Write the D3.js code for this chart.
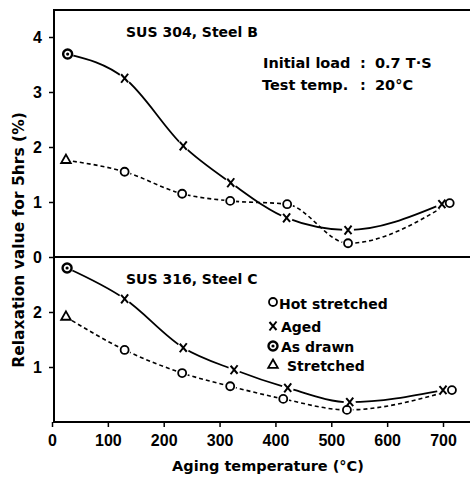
<!DOCTYPE html>
<html>
<head>
<meta charset="utf-8">
<script src="https://cdn.jsdelivr.net/npm/d3@7"></script>
<style>
    body { margin: 0; background: #fff; }
    svg text { font-family: 'DejaVu Sans', sans-serif; font-weight: bold; fill: #000; }
    svg .tick text { font-family: 'Liberation Sans', Arial, sans-serif; }
</style>
</head>
<body>
<div id="chart"></div>
<script>

// SUS 304, Steel B (upper panel)
var temp_aged_b = [130, 235, 320, 420, 530, 698];
var aged_b      = [3.25, 2.02, 1.35, 0.71, 0.49, 0.96];
var temp_hot_b  = [130, 233, 319, 421, 530, 712];
var hot_b       = [1.55, 1.15, 1.02, 0.96, 0.25, 0.98];
var as_drawn_b  = [28, 3.69];
var stretched_b = [25, 1.76];

// SUS 316, Steel C (lower panel)
var temp_aged_c = [130, 235, 326, 422, 533, 700];
var aged_c      = [2.24, 1.35, 0.95, 0.62, 0.36, 0.58];
var temp_hot_c  = [130, 233, 319, 414, 528, 716];
var hot_c       = [1.31, 0.89, 0.65, 0.42, 0.22, 0.58];
var as_drawn_c  = [27, 2.80];
var stretched_c = [25, 1.91];

var x_ticks = [0, 100, 200, 300, 400, 500, 600, 700];
var upper_ticks = [0, 1, 2, 3, 4];
var lower_ticks = [1, 2];

var legend_labels = ['Hot stretched', 'Aged', 'As drawn', 'Stretched'];

var w = 470;
var h = 477;
var left = 54;
var top_y = 10;
var mid_y = 257;
var bottom_y = 422;

var svg = d3.select('#chart')
            .append('svg')
            .attr('width', w)
            .attr('height', h);

var xScale = d3.scaleLinear()
    .domain([0, 700])
    .range([52, 443]);

var yUpper = d3.scaleLinear()
    .domain([0, 4])
    .range([mid_y, mid_y - 220]);

var yLower = d3.scaleLinear()
    .domain([0, 2])
    .range([bottom_y, bottom_y - 110]);

function zip(temps, vals) {
    return temps.map(function(t, i) { return [t, vals[i]]; });
}

// frame lines
[top_y, mid_y].forEach(function(yy) {
    svg.append('line')
        .attr('x1', left).attr('x2', w)
        .attr('y1', yy).attr('y2', yy)
        .attr('stroke', 'black').attr('stroke-width', 2);
});

var xAxis = d3.axisBottom(xScale).tickValues(x_ticks).tickSize(5).tickPadding(8);
var gx = svg.append('g')
    .attr('transform', 'translate(0,' + bottom_y + ')')
    .call(xAxis);
gx.select('.domain').remove();
gx.append('line')
    .attr('x1', left).attr('x2', w)
    .attr('stroke', 'black').attr('stroke-width', 2);
gx.selectAll('.tick line').attr('stroke-width', 1.5);
gx.selectAll('.tick text').attr('font-size', 16).attr('font-family', null);

var gyu = svg.append('g')
    .attr('transform', 'translate(' + left + ',0)')
    .call(d3.axisLeft(yUpper).tickValues(upper_ticks).tickFormat(d3.format('d')).tickSize(5).tickPadding(7));
var gyl = svg.append('g')
    .attr('transform', 'translate(' + left + ',0)')
    .call(d3.axisLeft(yLower).tickValues(lower_ticks).tickFormat(d3.format('d')).tickSize(5).tickPadding(7));
[gyu, gyl].forEach(function(g) {
    g.select('.domain').remove();
    g.selectAll('.tick line').attr('stroke-width', 1.5);
    g.selectAll('.tick text').attr('font-size', 16).attr('font-family', null);
});
svg.append('line')
    .attr('x1', left).attr('x2', left)
    .attr('y1', top_y - 1).attr('y2', bottom_y + 1)
    .attr('stroke', 'black').attr('stroke-width', 2);

function draw_panel(yScale, temp_aged, aged, temp_hot, hot, as_drawn, stretched) {

    var solid = [as_drawn].concat(zip(temp_aged, aged));
    var dashed = [stretched].concat(zip(temp_hot, hot));

    var line = d3.line()
        .x(function(d) { return xScale(d[0]); })
        .y(function(d) { return yScale(d[1]); })
        .curve(d3.curveMonotoneX);

    svg.append('path')
        .attr('d', line(solid))
        .attr('fill', 'none')
        .attr('stroke', 'black')
        .attr('stroke-width', 1.8);

    svg.append('path')
        .attr('d', line(dashed))
        .attr('fill', 'none')
        .attr('stroke', 'black')
        .attr('stroke-width', 1.6)
        .attr('stroke-dasharray', '4,3');

    // white gaps round the markers
    svg.selectAll(null)
        .data(solid.concat(dashed))
        .enter()
        .append('circle')
        .attr('cx', function(d) { return xScale(d[0]); })
        .attr('cy', function(d) { return yScale(d[1]); })
        .attr('r', 6)
        .attr('fill', 'white');

    draw_o(svg, zip(temp_hot, hot).map(function(d) { return [xScale(d[0]), yScale(d[1])]; }));
    draw_x(svg, zip(temp_aged, aged).map(function(d) { return [xScale(d[0]), yScale(d[1])]; }));
    draw_dot(svg, [[xScale(as_drawn[0]), yScale(as_drawn[1])]]);
    draw_tri(svg, [[xScale(stretched[0]), yScale(stretched[1])]]);
}

function draw_o(g, pts) {
    g.selectAll(null).data(pts).enter().append('circle')
        .attr('cx', function(d) { return d[0]; })
        .attr('cy', function(d) { return d[1]; })
        .attr('r', 4)
        .attr('fill', 'white')
        .attr('stroke', 'black')
        .attr('stroke-width', 1.8);
}

function draw_x(g, pts) {
    g.selectAll(null).data(pts).enter().append('path')
        .attr('transform', function(d) { return 'translate(' + d[0] + ',' + d[1] + ')'; })
        .attr('d', 'M-3.5,-4L3.5,4M3.5,-4.5L-3.5,4.5')
        .attr('fill', 'none')
        .attr('stroke', 'black')
        .attr('stroke-width', 2);
}

function draw_dot(g, pts) {
    var s = g.selectAll(null).data(pts).enter().append('g')
        .attr('transform', function(d) { return 'translate(' + d[0] + ',' + d[1] + ')'; });
    s.append('circle').attr('r', 4.5).attr('fill', 'white')
        .attr('stroke', 'black').attr('stroke-width', 2.4);
    s.append('circle').attr('r', 1.6).attr('fill', 'black');
}

function draw_tri(g, pts) {
    g.selectAll(null).data(pts).enter().append('path')
        .attr('transform', function(d) { return 'translate(' + d[0] + ',' + d[1] + ')'; })
        .attr('d', d3.symbol(d3.symbolTriangle, 40))
        .attr('fill', 'white')
        .attr('stroke', 'black')
        .attr('stroke-width', 1.8);
}

draw_panel(yUpper, temp_aged_b, aged_b, temp_hot_b, hot_b, as_drawn_b, stretched_b);
draw_panel(yLower, temp_aged_c, aged_c, temp_hot_c, hot_c, as_drawn_c, stretched_c);

// panel labels
svg.append('text').attr('x', 126).attr('y', 37).attr('font-size', 14).text('SUS 304, Steel B');
svg.append('text').attr('x', 126).attr('y', 284).attr('font-size', 14).text('SUS 316, Steel C');

svg.append('text').attr('x', 263).attr('y', 68).attr('font-size', 14.5).text('Initial load');
svg.append('text').attr('x', 262).attr('y', 90).attr('font-size', 14.5).text('Test temp.');
svg.append('text').attr('x', 360).attr('y', 68).attr('font-size', 14.5).text(':');
svg.append('text').attr('x', 360).attr('y', 90).attr('font-size', 14.5).text(':');
svg.append('text').attr('x', 375).attr('y', 68).attr('font-size', 14.5).text('0.7 T·S');
svg.append('text').attr('x', 375).attr('y', 90).attr('font-size', 14.5).text('20°C');

// legend
var legend_y = [303, 326, 346, 365];
var lx = 273;
draw_o(svg, [[lx, legend_y[0] - 1]]);
draw_x(svg, [[lx, legend_y[1]]]);
draw_dot(svg, [[lx, legend_y[2]]]);
draw_tri(svg, [[lx, legend_y[3]]]);
var legend_tx = [279, 281, 281, 287];
legend_labels.forEach(function(lbl, i) {
    svg.append('text')
        .attr('x', legend_tx[i])
        .attr('y', legend_y[i] + 6)
        .attr('font-size', 14)
        .text(lbl);
});

// axis titles
svg.append('text')
    .attr('text-anchor', 'middle')
    .attr('font-size', 14.5)
    .attr('x', 268)
    .attr('y', 471)
    .text('Aging temperature (°C)');

svg.append('text')
    .attr('text-anchor', 'middle')
    .attr('font-size', 15.5)
    .attr('transform', 'translate(24,240) rotate(-90)')
    .text('Relaxation value for 5hrs (%)');

</script>
</body>
</html>
